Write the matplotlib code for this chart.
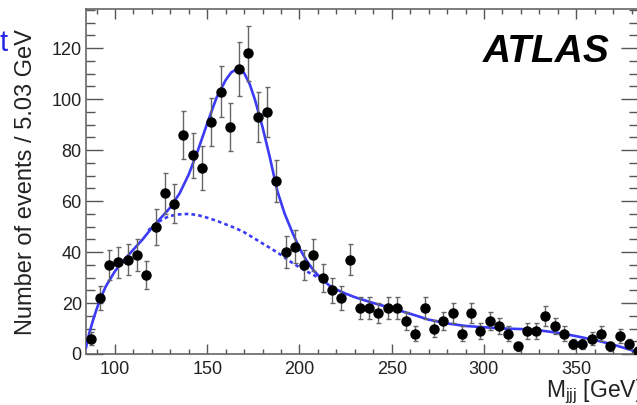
import numpy as np
import matplotlib
matplotlib.use("Agg")
import matplotlib.pyplot as plt

plt.rcParams["font.family"] = ["Liberation Sans", "DejaVu Sans"]
plt.rcParams["mathtext.fontset"] = "custom"
plt.rcParams["mathtext.rm"] = "Liberation Sans"
plt.rcParams["mathtext.it"] = "Liberation Sans:italic"

# Histogram binning (GeV)
bin_low = 84.3
bin_width = 5.03

# Events per bin
counts = [6, 22, 35, 36, 37, 39, 31, 50, 63, 59,
          86, 78, 73, 91, 103, 89, 112, 118, 93, 95,
          68, 40, 42, 35, 39, 30, 25, 22, 37, 18,
          18, 16, 18, 18, 13, 8, 18, 10, 13, 16,
          8, 16, 9, 13, 11, 8, 3, 9, 9, 15,
          11, 8, 4, 4, 6, 8, 3, 7, 4, 1]

# Fitted signal + background
fit_x = [84.3, 86, 88, 90, 92, 95, 100, 105, 110, 115, 120, 125, 130, 135,
         140, 145, 150, 155, 160, 163, 166, 168, 170, 173, 176, 180, 184,
         188, 192, 196, 200, 204, 208, 212, 216, 220, 225, 230, 240, 250,
         260, 270, 280, 290, 300, 310, 320, 330, 340, 350, 360, 370, 380, 384]
fit_y = [2.5, 8, 13, 17.5, 21.5, 26.5, 32.5, 37, 41, 45, 49.5, 53.5, 57.5, 63,
         70.5, 80, 90.5, 100.5, 107.5, 110.5, 111.8, 111.7, 110.3, 106, 99.5, 89, 77,
         64, 55, 48, 41.5, 36.5, 32.5, 29.5, 27, 25.3, 23.7, 22.3, 20, 18,
         15.8, 13.5, 12, 11, 10.5, 10, 9.8, 9.3, 8.3, 7, 5.5, 3.7, 1.5, 0.5]

# Fitted background component
bkg_x = [118, 122, 126, 130, 135, 140, 145, 150, 155, 160, 165, 170, 175,
         180, 185, 190, 195, 200, 205, 210]
bkg_y = [48.5, 51, 53, 54.2, 54.8, 55, 54.5, 53.5, 52.3, 50.9, 49.5, 47.8, 45.6,
         43.4, 41.2, 38.9, 36.3, 34, 32, 30.1]

centers = bin_low + bin_width * (np.arange(len(counts)) + 0.5)
counts = np.array(counts, dtype=float)
poisson_err = np.sqrt(counts)

W, H = 637, 405
fig = plt.figure(figsize=(W / 100, H / 100), dpi=100)
ax = fig.add_axes([86 / W, 1 - 354 / H, (638 - 86) / W, (354 - 9) / H])

line_col = "#3b3bf5"
ax.plot(bkg_x, bkg_y, color=line_col, lw=1.9, ls=(0, (1.4, 1.2)), zorder=2)
ax.plot(fit_x, fit_y, color=line_col, lw=1.9, zorder=3)
ax.errorbar(centers, counts, yerr=poisson_err, fmt="o", color="black",
            ms=6.5, ecolor="#666666", elinewidth=1.0, capsize=1.8,
            capthick=1.0, zorder=4)

ax.set_xlim(bin_low, 383.5)
ax.set_ylim(0, 135.4)
ax.set_xticks([100, 150, 200, 250, 300, 350])
ax.set_xticks(np.arange(90, 384, 10), minor=True)
ax.set_yticks([0, 20, 40, 60, 80, 100, 120])
ax.set_yticks(np.arange(0, 136, 5), minor=True)

ax.tick_params(axis="both", which="both", direction="in", top=True, right=True,
               color="#555555", width=1.0, labelsize=13, labelcolor="#222222")
ax.tick_params(axis="x", which="major", length=7, pad=5)
ax.tick_params(axis="x", which="minor", length=3.6)
ax.tick_params(axis="y", which="major", length=12, pad=3)
ax.tick_params(axis="y", which="minor", length=6.5)
for s in ax.spines.values():
    s.set_color("#666666")
    s.set_linewidth(1.2)

ax.set_ylabel("Number of events / 5.03 GeV", fontsize=17, color="#222222")
ax.yaxis.set_label_coords((37 - 86) / 552, (354 - 182) / 345)

fig.text(546 / W, 1 - 397 / H, r"M$_{\rm jjj}$ [GeV]", fontsize=16.5,
         color="#222222", ha="left", va="baseline")
fig.text(610 / W, 1 - 52 / H, "ATLAS", fontsize=28, fontweight="bold",
         fontstyle="italic", ha="right", va="center", color="black")
fig.text(8 / W, 1 - 51 / H, "t", fontsize=21, color="#2424e6",
         ha="right", va="baseline")

fig.savefig("out.png", dpi=100)
